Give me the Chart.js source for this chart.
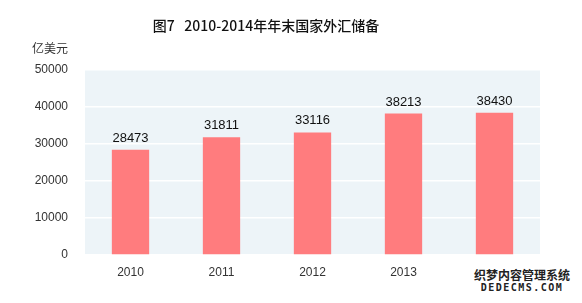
<!DOCTYPE html>
<html>
<head>
<meta charset="utf-8">
<script src="https://cdn.jsdelivr.net/npm/chart.js@4"></script>
<style>
  html, body { margin: 0; padding: 0; background: #fff; }
  #wrap { position: relative; width: 582px; height: 303px; }
  #mark { position: absolute; left: 472px; top: 266px; width: 100px; padding-top: 2px; background: #fff; font-family: "Noto Sans CJK SC"; font-size: 12px; font-weight: bold; color: #222; line-height: 14px; text-align: center; }
  #mark span { display: block; font-family: "DejaVu Sans Mono"; font-weight: bold; font-size: 10px; letter-spacing: 1.5px; line-height: 12px; }
</style>
</head>
<body>
<div id="wrap">
  <canvas id="chart" width="582" height="303"></canvas>
  <div id="mark">织梦内容管理系统<span>DEDECMS.COM</span></div>
</div>
<script>
// data
const years = ['2010', '2011', '2012', '2013', '2014'];
const reserves = [28473, 31811, 33116, 38213, 38430];
const yTicks = [0, 10000, 20000, 30000, 40000, 50000];

const titleText = '图7\u00a0\u00a0 2010-2014年年末国家外汇储备';
const unitText = '亿美元';

// plot background + texts
const decorPlugin = {
    id: 'decor',
    beforeDraw(chart) {
        const { ctx, chartArea } = chart;
        ctx.save();
        ctx.fillStyle = '#EDF4F8';
        ctx.fillRect(chartArea.left, chartArea.top, chartArea.right - chartArea.left, chartArea.bottom - chartArea.top);
        ctx.restore();
    },
    afterDraw(chart) {
        const ctx = chart.ctx;
        ctx.save();
        ctx.fillStyle = '#111';
        ctx.textBaseline = 'middle';
        ctx.textAlign = 'center';
        ctx.font = '500 14px "Noto Sans CJK SC"';
        ctx.fillText(titleText, 266, 26);
        ctx.font = '12px "Noto Sans CJK SC"';
        ctx.fillStyle = '#333';
        ctx.fillText(unitText, 50, 48);
        ctx.restore();
    }
};

// value labels above bars
const valuePlugin = {
    id: 'values',
    afterDatasetsDraw(chart) {
        const ctx = chart.ctx;
        const meta = chart.getDatasetMeta(0);
        ctx.save();
        ctx.fillStyle = '#111';
        ctx.font = '13px "Liberation Sans"';
        ctx.textAlign = 'center';
        ctx.textBaseline = 'alphabetic';
        meta.data.forEach((bar, i) => {
            ctx.fillText(String(reserves[i]), bar.x, bar.y - 8);
        });
        ctx.restore();
    }
};

function initChart() {
    const canvas = document.getElementById('chart');
    new Chart(canvas.getContext('2d'), {
        type: 'bar',
        data: {
            labels: years,
            datasets: [{
                data: reserves,
                backgroundColor: '#FF7C7E',
                borderWidth: 0,
                barPercentage: 0.41,
                categoryPercentage: 1
            }]
        },
        options: {
            responsive: false,
            animation: false,
            layout: { padding: { top: 70, right: 42, left: 0, bottom: 0 } },
            plugins: {
                legend: { display: false },
                tooltip: { enabled: false }
            },
            scales: {
                x: {
                    grid: { display: false, drawTicks: false },
                    border: { display: false },
                    ticks: {
                        padding: 10,
                        color: '#333',
                        font: { family: 'Liberation Sans', size: 12 }
                    },
                    afterFit(scale) { scale.height = 48; }
                },
                y: {
                    min: 0,
                    max: 50000,
                    afterBuildTicks(scale) { scale.ticks = yTicks.map(v => ({ value: v })); },
                    grid: { color: '#FFFFFF', lineWidth: 1.5, drawTicks: false },
                    border: { display: false },
                    ticks: {
                        padding: 17,
                        color: '#333',
                        font: { family: 'Liberation Sans', size: 12 },
                        callback: v => String(v)
                    },
                    afterFit(scale) { scale.width = 85; }
                }
            }
        },
        plugins: [decorPlugin, valuePlugin]
    });
}

document.addEventListener('DOMContentLoaded', initChart);
</script>
</body>
</html>
